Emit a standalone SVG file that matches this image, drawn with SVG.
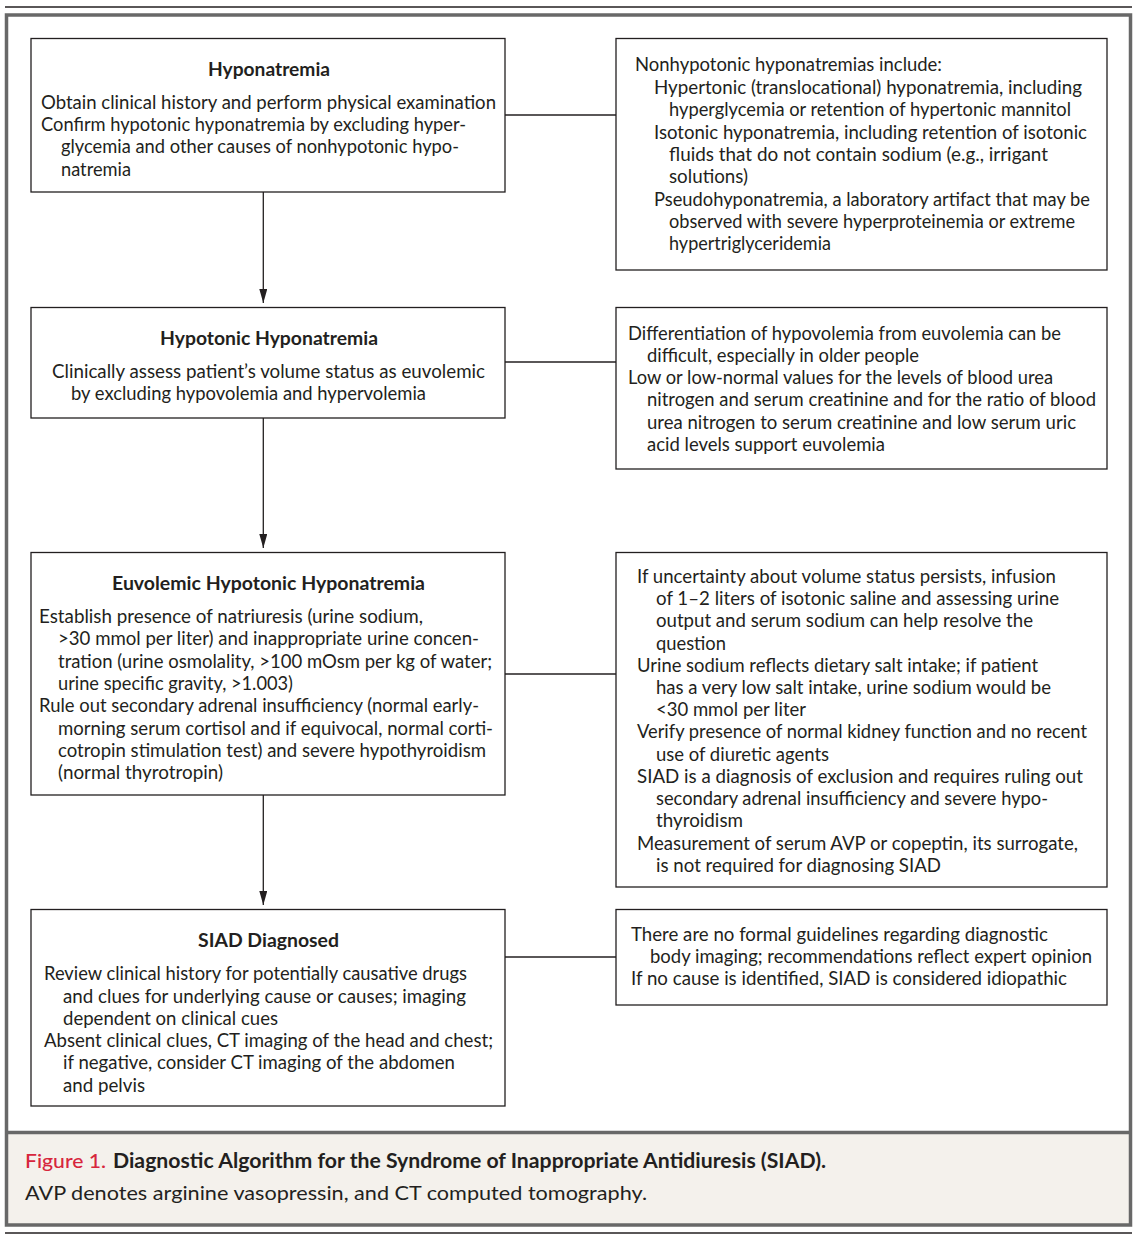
<svg xmlns="http://www.w3.org/2000/svg" width="1138" height="1239" viewBox="0 0 1138 1239">
<style>
.box{fill:#fff;stroke:#231f20;stroke-width:1.3}
.t{font-family:Lato,"Open Sans","Liberation Sans",sans-serif;font-size:18.5px;fill:#231f20}
.h{font-family:Lato,"Open Sans","Liberation Sans",sans-serif;font-size:19px;font-weight:bold;fill:#231f20;text-anchor:middle}
.c{font-family:Lato,"Open Sans","Liberation Sans",sans-serif;font-size:20px;fill:#231f20}
.conn{stroke:#231f20;stroke-width:1.3;fill:none}
</style>
<defs>
<marker id="ah" markerUnits="userSpaceOnUse" markerWidth="14" markerHeight="8" refX="14" refY="4" orient="auto">
<path d="M0,0 L14,4 L0,8 z" fill="#231f20"/>
</marker>
</defs>
<rect x="0" y="0" width="1138" height="1239" fill="#fff"/>
<line x1="5" y1="7" x2="1132" y2="7" stroke="#231f20" stroke-width="1.3"/>
<line x1="5" y1="1233" x2="1132" y2="1233" stroke="#231f20" stroke-width="1.3"/>
<rect x="6.5" y="1132.5" width="1124" height="92.5" fill="#f4f1ec"/>
<rect x="6.5" y="15" width="1124" height="1210" fill="none" stroke="#686868" stroke-width="3.5"/>
<line x1="6.5" y1="1132.5" x2="1130.5" y2="1132.5" stroke="#686868" stroke-width="3.5"/>

<g id="connectors">
<line class="conn" x1="505" y1="115" x2="616" y2="115"/>
<line class="conn" x1="505" y1="362" x2="616" y2="362"/>
<line class="conn" x1="505" y1="674" x2="616" y2="674"/>
<line class="conn" x1="505" y1="957" x2="616" y2="957"/>
<line class="conn" x1="263.3" y1="192" x2="263.3" y2="303" marker-end="url(#ah)"/>
<line class="conn" x1="263.3" y1="418" x2="263.3" y2="548" marker-end="url(#ah)"/>
<line class="conn" x1="263.3" y1="795" x2="263.3" y2="905" marker-end="url(#ah)"/>
</g>

<g id="n1">
<rect class="box" x="31" y="38.5" width="474" height="153.5"/>
<text class="h" x="269" y="76" textLength="122" lengthAdjust="spacingAndGlyphs">Hyponatremia</text>
<text class="t" x="41" y="109" textLength="455" lengthAdjust="spacingAndGlyphs">Obtain clinical history and perform physical examination</text>
<text class="t" x="41" y="131" textLength="425" lengthAdjust="spacingAndGlyphs">Confirm hypotonic hyponatremia by excluding hyper-</text>
<text class="t" x="61" y="153" textLength="398" lengthAdjust="spacingAndGlyphs">glycemia and other causes of nonhypotonic hypo-</text>
<text class="t" x="61" y="176" textLength="70" lengthAdjust="spacingAndGlyphs">natremia</text>
</g>

<g id="r1">
<rect class="box" x="616" y="38.5" width="491" height="231.5"/>
<text class="t" x="635" y="71" textLength="307" lengthAdjust="spacingAndGlyphs">Nonhypotonic hyponatremias include:</text>
<text class="t" x="654" y="94" textLength="428" lengthAdjust="spacingAndGlyphs">Hypertonic (translocational) hyponatremia, including</text>
<text class="t" x="669" y="116" textLength="402" lengthAdjust="spacingAndGlyphs">hyperglycemia or retention of hypertonic mannitol</text>
<text class="t" x="654" y="139" textLength="433" lengthAdjust="spacingAndGlyphs">Isotonic hyponatremia, including retention of isotonic</text>
<text class="t" x="669" y="161" textLength="379" lengthAdjust="spacingAndGlyphs">fluids that do not contain sodium (e.g., irrigant</text>
<text class="t" x="669" y="183" textLength="79" lengthAdjust="spacingAndGlyphs">solutions)</text>
<text class="t" x="654" y="206" textLength="436" lengthAdjust="spacingAndGlyphs">Pseudohyponatremia, a laboratory artifact that may be</text>
<text class="t" x="669" y="228" textLength="406" lengthAdjust="spacingAndGlyphs">observed with severe hyperproteinemia or extreme</text>
<text class="t" x="669" y="250" textLength="162" lengthAdjust="spacingAndGlyphs">hypertriglyceridemia</text>
</g>

<g id="n2">
<rect class="box" x="31" y="307.5" width="474" height="110.5"/>
<text class="h" x="269" y="345" textLength="218" lengthAdjust="spacingAndGlyphs">Hypotonic Hyponatremia</text>
<text class="t" x="52" y="378" textLength="433" lengthAdjust="spacingAndGlyphs">Clinically assess patient’s volume status as euvolemic</text>
<text class="t" x="71" y="400" textLength="355" lengthAdjust="spacingAndGlyphs">by excluding hypovolemia and hypervolemia</text>
</g>

<g id="r2">
<rect class="box" x="616" y="307.5" width="491" height="161.5"/>
<text class="t" x="628" y="340" textLength="433" lengthAdjust="spacingAndGlyphs">Differentiation of hypovolemia from euvolemia can be</text>
<text class="t" x="647" y="362" textLength="272" lengthAdjust="spacingAndGlyphs">difficult, especially in older people</text>
<text class="t" x="628" y="384" textLength="425" lengthAdjust="spacingAndGlyphs">Low or low-normal values for the levels of blood urea</text>
<text class="t" x="647" y="406" textLength="449" lengthAdjust="spacingAndGlyphs">nitrogen and serum creatinine and for the ratio of blood</text>
<text class="t" x="647" y="429" textLength="429" lengthAdjust="spacingAndGlyphs">urea nitrogen to serum creatinine and low serum uric</text>
<text class="t" x="647" y="451" textLength="238" lengthAdjust="spacingAndGlyphs">acid levels support euvolemia</text>
</g>

<g id="n3">
<rect class="box" x="31" y="552.5" width="474" height="242.5"/>
<text class="h" x="268.5" y="590" textLength="313" lengthAdjust="spacingAndGlyphs">Euvolemic Hypotonic Hyponatremia</text>
<text class="t" x="39" y="623" textLength="384" lengthAdjust="spacingAndGlyphs">Establish presence of natriuresis (urine sodium,</text>
<text class="t" x="58" y="645" textLength="421" lengthAdjust="spacingAndGlyphs">&gt;30 mmol per liter) and inappropriate urine concen-</text>
<text class="t" x="58" y="668" textLength="434" lengthAdjust="spacingAndGlyphs">tration (urine osmolality, &gt;100 mOsm per kg of water;</text>
<text class="t" x="58" y="690" textLength="235" lengthAdjust="spacingAndGlyphs">urine specific gravity, &gt;1.003)</text>
<text class="t" x="39" y="712" textLength="440" lengthAdjust="spacingAndGlyphs">Rule out secondary adrenal insufficiency (normal early-</text>
<text class="t" x="58" y="735" textLength="435" lengthAdjust="spacingAndGlyphs">morning serum cortisol and if equivocal, normal corti-</text>
<text class="t" x="58" y="757" textLength="428" lengthAdjust="spacingAndGlyphs">cotropin stimulation test) and severe hypothyroidism</text>
<text class="t" x="58" y="779" textLength="165" lengthAdjust="spacingAndGlyphs">(normal thyrotropin)</text>
</g>

<g id="r3">
<rect class="box" x="616" y="552.5" width="491" height="334.5"/>
<text class="t" x="637" y="583" textLength="419" lengthAdjust="spacingAndGlyphs">If uncertainty about volume status persists, infusion</text>
<text class="t" x="656" y="605" textLength="403" lengthAdjust="spacingAndGlyphs">of 1–2 liters of isotonic saline and assessing urine</text>
<text class="t" x="656" y="627" textLength="377" lengthAdjust="spacingAndGlyphs">output and serum sodium can help resolve the</text>
<text class="t" x="656" y="650" textLength="70" lengthAdjust="spacingAndGlyphs">question</text>
<text class="t" x="637" y="672" textLength="401" lengthAdjust="spacingAndGlyphs">Urine sodium reflects dietary salt intake; if patient</text>
<text class="t" x="656" y="694" textLength="395" lengthAdjust="spacingAndGlyphs">has a very low salt intake, urine sodium would be</text>
<text class="t" x="656" y="716" textLength="150" lengthAdjust="spacingAndGlyphs">&lt;30 mmol per liter</text>
<text class="t" x="637" y="738" textLength="450" lengthAdjust="spacingAndGlyphs">Verify presence of normal kidney function and no recent</text>
<text class="t" x="656" y="761" textLength="173" lengthAdjust="spacingAndGlyphs">use of diuretic agents</text>
<text class="t" x="637" y="783" textLength="446" lengthAdjust="spacingAndGlyphs">SIAD is a diagnosis of exclusion and requires ruling out</text>
<text class="t" x="656" y="805" textLength="392" lengthAdjust="spacingAndGlyphs">secondary adrenal insufficiency and severe hypo-</text>
<text class="t" x="656" y="827" textLength="87" lengthAdjust="spacingAndGlyphs">thyroidism</text>
<text class="t" x="637" y="850" textLength="441" lengthAdjust="spacingAndGlyphs">Measurement of serum AVP or copeptin, its surrogate,</text>
<text class="t" x="656" y="872" textLength="285" lengthAdjust="spacingAndGlyphs">is not required for diagnosing SIAD</text>
</g>

<g id="n4">
<rect class="box" x="31" y="909.5" width="474" height="196.5"/>
<text class="h" x="268.5" y="947" textLength="141" lengthAdjust="spacingAndGlyphs">SIAD Diagnosed</text>
<text class="t" x="44" y="980" textLength="423" lengthAdjust="spacingAndGlyphs">Review clinical history for potentially causative drugs</text>
<text class="t" x="63" y="1003" textLength="403" lengthAdjust="spacingAndGlyphs">and clues for underlying cause or causes; imaging</text>
<text class="t" x="63" y="1025" textLength="215" lengthAdjust="spacingAndGlyphs">dependent on clinical cues</text>
<text class="t" x="44" y="1047" textLength="449" lengthAdjust="spacingAndGlyphs">Absent clinical clues, CT imaging of the head and chest;</text>
<text class="t" x="63" y="1069" textLength="392" lengthAdjust="spacingAndGlyphs">if negative, consider CT imaging of the abdomen</text>
<text class="t" x="63" y="1092" textLength="82" lengthAdjust="spacingAndGlyphs">and pelvis</text>
</g>

<g id="r4">
<rect class="box" x="616" y="909.5" width="491" height="95.5"/>
<text class="t" x="631" y="941" textLength="417" lengthAdjust="spacingAndGlyphs">There are no formal guidelines regarding diagnostic</text>
<text class="t" x="650" y="963" textLength="442" lengthAdjust="spacingAndGlyphs">body imaging; recommendations reflect expert opinion</text>
<text class="t" x="631" y="985" textLength="436" lengthAdjust="spacingAndGlyphs">If no cause is identified, SIAD is considered idiopathic</text>
</g>

<g id="caption">
<text class="c" x="25" y="1168" style="fill:#d7263d;font-weight:500" textLength="81" lengthAdjust="spacingAndGlyphs">Figure 1.</text>
<text class="c" x="113" y="1168" font-weight="bold" textLength="713" lengthAdjust="spacingAndGlyphs">Diagnostic Algorithm for the Syndrome of Inappropriate Antidiuresis (SIAD).</text>
<text class="c" x="25" y="1200" textLength="622" lengthAdjust="spacingAndGlyphs">AVP denotes arginine vasopressin, and CT computed tomography.</text>
</g>
</svg>
